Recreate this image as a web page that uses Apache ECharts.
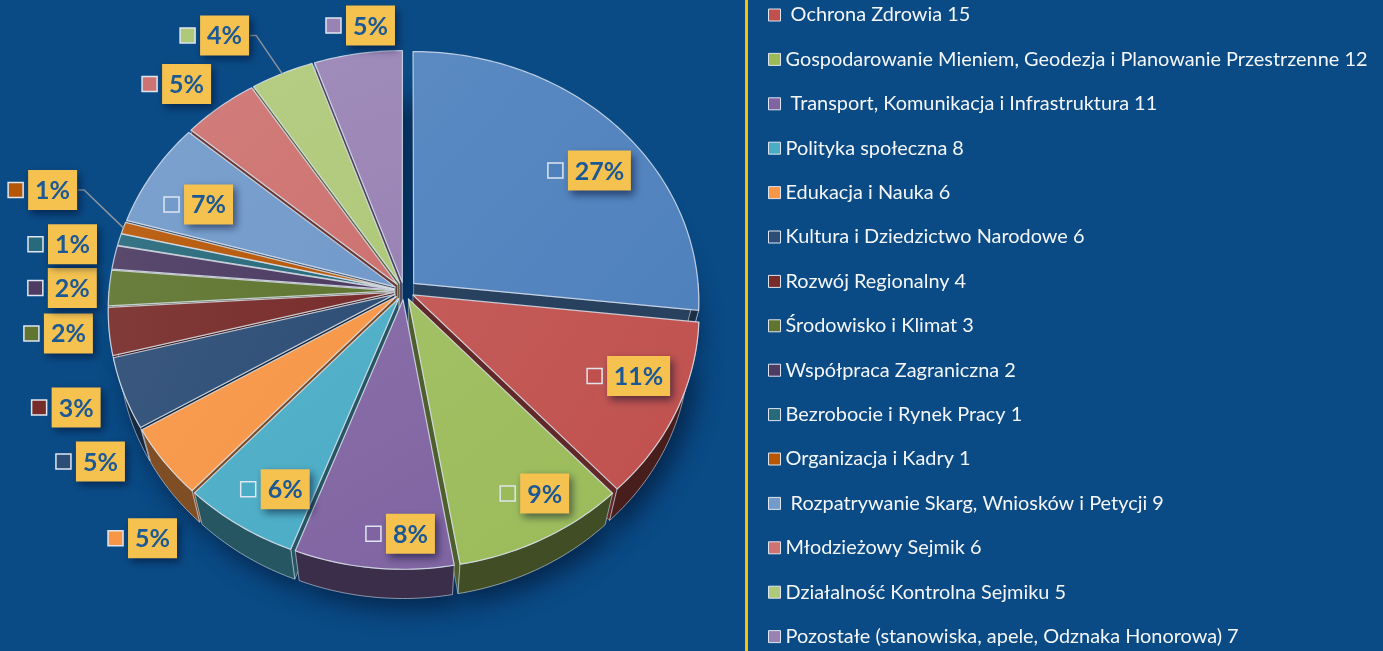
<!DOCTYPE html>
<html>
<head>
<meta charset="utf-8">
<title>Tematyka uchwał</title>
<script src="https://cdn.jsdelivr.net/npm/echarts@6/dist/echarts.min.js"></script>
<style>
html,body{margin:0;padding:0;background:#0a4a85;overflow:hidden}
#chart{width:1383px;height:651px}
</style>
</head>
<body>
<div id="chart"></div>
<script>
// Subject areas and number of resolutions in each
const categories = [
  'Budżet i Finanse',
  ' Ochrona Zdrowia',
  'Gospodarowanie Mieniem, Geodezja i Planowanie Przestrzenne',
  ' Transport, Komunikacja i Infrastruktura',
  'Polityka społeczna',
  'Edukacja i Nauka',
  'Kultura i Dziedzictwo Narodowe',
  'Rozwój Regionalny',
  'Środowisko i Klimat',
  'Współpraca Zagraniczna',
  'Bezrobocie i Rynek Pracy',
  'Organizacja i Kadry',
  ' Rozpatrywanie Skarg, Wniosków i Petycji',
  'Młodzieżowy Sejmik',
  'Działalność Kontrolna Sejmiku',
  'Pozostałe (stanowiska, apele, Odznaka Honorowa)'
];
const counts = [35, 15, 12, 11, 8, 6, 6, 4, 3, 2, 1, 1, 9, 6, 5, 7];

// Slice colours
const sliceColors = ['#4F81BD','#C0504D','#9BBB59','#8064A2','#4BACC6','#F79646','#2C4D75','#772C2A',
                     '#5F7530','#4D3B62','#276A7C','#B65708','#729ACA','#CD7371','#AFC97A','#9983B5'];

// Where each percentage label sits: angle (deg, clockwise from top) and radius as a share of the pie radius
const labelAngle  = [55.2, 112.3, 148.5, 178.4, 207.5, 221.4, 237.0, 247.5, 261.5, 270.4, 279.1, 288.3, 296.8, 317.4, 328.3, 353.8];
const labelRadius = [0.823, 0.835, 0.864, 0.877, 0.815, 1.206, 1.173, 1.168, 1.141, 1.13, 1.159, 1.301, 0.753, 1.163, 1.262, 1.123];
const leaderLines = [11, 14];

// 3D pie geometry (pixels)
const GEO = { cx: 404, cy: 291, R: 285, tilt: 61, dist: 1960, depth: 78, explode: 10, explodeFirst: 13 };

const DEG = Math.PI / 180;
const total = counts.reduce((a, b) => a + b, 0);
const startDeg = [], endDeg = [];
(function () {
  let acc = 0;
  counts.forEach(v => { startDeg.push(acc / total * 360); acc += v; endDeg.push(acc / total * 360); });
})();

const sinT = Math.sin(GEO.tilt * DEG), cosT = Math.cos(GEO.tilt * DEG);
// world: X to the right, Z away from viewer, Y up
function proj(X, Z, Y) {
  const up = Z * sinT + Y * cosT;
  const dep = Z * cosT - Y * sinT;
  const s = GEO.dist / (GEO.dist + dep);
  return [GEO.cx + X * s, GEO.cy - up * s];
}

function rgb(hex) {
  const n = parseInt(hex.slice(1), 16);
  return [(n >> 16) & 255, (n >> 8) & 255, n & 255];
}
function shade(hex, f) {
  const c = rgb(hex).map(v => Math.round(v * f));
  return 'rgb(' + c.join(',') + ')';
}
function tint(hex, t) {
  const c = rgb(hex).map(v => Math.round(v + (255 - v) * t));
  return 'rgb(' + c.join(',') + ')';
}

function renderSlice(params, api) {
  const i = params.dataIndex;
  const a0 = startDeg[i], a1 = endDeg[i], mid = (a0 + a1) / 2;
  const e = i === 0 ? GEO.explodeFirst : GEO.explode;
  const ox = e * Math.sin(mid * DEG), oz = e * Math.cos(mid * DEG);
  const R = GEO.R, H = -GEO.depth;
  const rim = (a, Y, r) => proj(ox + r * Math.sin(a * DEG), oz + r * Math.cos(a * DEG), Y);
  const arc = (b0, b1, Y) => {
    const n = Math.max(2, Math.ceil(Math.abs(b1 - b0)) + 1);
    const pts = [];
    for (let k = 0; k < n; k++) pts.push(rim(b0 + (b1 - b0) * k / (n - 1), Y, R));
    return pts;
  };
  const apexTop = proj(ox, oz, 0), apexBot = proj(ox, oz, H);
  const base = sliceColors[i];
  const children = [];
  const front = 10 - Math.cos(mid * DEG) * 5;

  // underside, casting the soft shadow
  children.push({
    type: 'polygon', silent: true, z2: 1,
    shape: { points: [apexBot].concat(arc(a0, a1, H)) },
    style: { fill: '#08386a', shadowBlur: 24, shadowColor: 'rgba(0,10,30,0.55)', shadowOffsetX: 8, shadowOffsetY: 10 }
  });

  // radial walls
  if (Math.sin(a0 * DEG) < -1e-6) {
    children.push({
      type: 'polygon', silent: true, z2: front,
      shape: { points: [apexTop, rim(a0, 0, R), rim(a0, H, R), apexBot] },
      style: { fill: shade(base, 0.5), stroke: 'rgba(222,230,240,0.45)', lineWidth: 1 }
    });
  }
  if (Math.sin(a1 * DEG) > 1e-6) {
    children.push({
      type: 'polygon', silent: true, z2: front,
      shape: { points: [apexTop, rim(a1, 0, R), rim(a1, H, R), apexBot] },
      style: { fill: shade(base, 0.5), stroke: 'rgba(222,230,240,0.45)', lineWidth: 1 }
    });
  }

  // outer wall (front half only)
  const b0 = Math.max(a0, 90), b1 = Math.min(a1, 270);
  if (b1 > b0) {
    const bm = (b0 + b1) / 2;
    const f = 0.45 - 0.09 * Math.sin(bm * DEG);
    const top = arc(b0, b1, 0), bot = arc(b0, b1, H).reverse();
    children.push({
      type: 'polygon', silent: true, z2: front + 1,
      shape: { points: top.concat(bot) },
      style: { fill: shade(base, f), stroke: 'rgba(222,230,240,0.55)', lineWidth: 1 }
    });
  }

  // top face
  children.push({
    type: 'polygon', z2: 50,
    shape: { points: [apexTop].concat(arc(a0, a1, 0)) },
    style: {
      fill: new echarts.graphic.LinearGradient(0, 0, 1, 1, [
        { offset: 0, color: tint(base, 0.07) },
        { offset: 1, color: base }
      ]),
      stroke: 'rgba(222,230,240,0.8)', lineWidth: 1.2, lineJoin: 'round'
    }
  });

  // percentage label
  const pct = Math.round(counts[i] / total * 100) + '%';
  const la = labelAngle[i], lr = labelRadius[i] * R;
  const p = proj(ox + lr * Math.sin(la * DEG), oz + lr * Math.cos(la * DEG), 0);
  const bw = 14 * (pct.length - 1) + 35, bh = 40;
  const bx = p[0] - bw / 2, by = p[1] - bh / 2;
  children.push({
    type: 'rect', z2: 80, silent: true,
    shape: { x: bx, y: by, width: bw, height: bh },
    style: { fill: '#F5C24F', shadowBlur: 8, shadowColor: 'rgba(0,10,40,0.55)', shadowOffsetX: 3, shadowOffsetY: 4 }
  });
  children.push({
    type: 'text', z2: 82, silent: true,
    style: { x: p[0], y: p[1] + 1, text: pct, align: 'center', verticalAlign: 'middle',
             fill: '#1b5896', font: 'bold 25px Lato' }
  });
  children.push({
    type: 'rect', z2: 81, silent: true,
    shape: { x: bx - 5 - 15, y: p[1] - 7.5, width: 15, height: 15 },
    style: { fill: base, stroke: '#dfe6ef', lineWidth: 1.5 }
  });

  if (leaderLines.indexOf(i) >= 0) {
    const tip = rim(mid, 0, R);
    children.push({
      type: 'polyline', z2: 60, silent: true,
      shape: { points: [[bx + bw + 1, p[1]], [bx + bw + 7, p[1]], tip] },
      style: { stroke: '#8b939e', lineWidth: 1.5, fill: null }
    });
  }

  return { type: 'group', children: children };
}

const chart = echarts.init(document.getElementById('chart'), null, { renderer: 'canvas' });
chart.setOption({
  backgroundColor: '#0a4a85',
  animation: false,
  graphic: [{
    type: 'rect', left: 745, top: 0, silent: true,
    shape: { width: 3, height: 651 },
    style: { fill: '#FFC000' }
  }],
  legend: {
    orient: 'vertical',
    left: 768, top: 5,
    padding: 0,
    itemWidth: 12, itemHeight: 12,
    itemGap: 24.4,
    icon: 'rect',
    selectedMode: false,
    data: categories.slice(1),
    itemStyle: { borderColor: '#dfe5ee', borderWidth: 1 },
    textStyle: { color: '#f4f6f9', fontFamily: 'Lato', fontSize: 19.9, lineHeight: 20 },
    formatter: name => name + ' ' + counts[categories.indexOf(name)]
  },
  series: [
    {
      type: 'custom',
      coordinateSystem: 'none',
      renderItem: renderSlice,
      data: counts.map((v, i) => ({ name: categories[i], value: v }))
    },
    {
      // carries the legend entries
      type: 'pie',
      radius: [0, 0],
      center: [GEO.cx, GEO.cy],
      silent: true,
      label: { show: false },
      labelLine: { show: false },
      itemStyle: { borderWidth: 0 },
      data: counts.map((v, i) => ({ name: categories[i], value: v, itemStyle: { color: sliceColors[i] } }))
    }
  ]
});
</script>
</body>
</html>
